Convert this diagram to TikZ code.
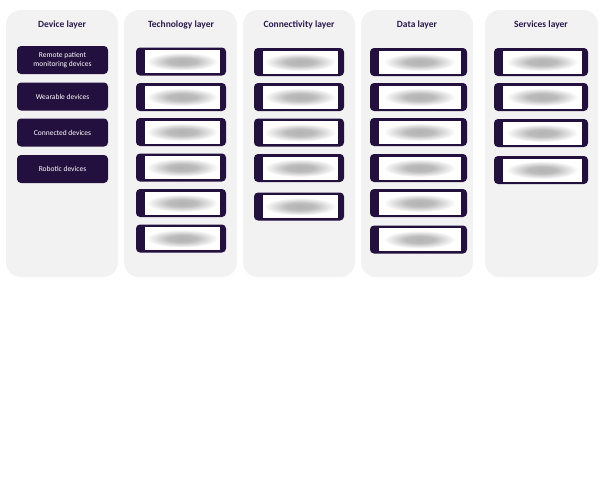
\documentclass[tikz,border=0pt]{standalone}
\usepackage{fontspec}
\setmainfont{Carlito}
\definecolor{LayerInk}{RGB}{36,16,62}
\definecolor{LayerPanel}{RGB}{242,242,242}
\definecolor{LayerTitle}{RGB}{42,26,76}
\pgfdeclareradialshading{layerhaze}{\pgfpointorigin}{%
    color(0bp)=(black!30); color(10bp)=(black!26); color(25bp)=(white);
    color(50bp)=(white)}
\tikzset{
    layer/diagram/.style={
        x=1pt, y=-1pt,
        line join=round,
        every node/.style={outer sep=0pt}
    },
    layer/panel/.style={fill=LayerPanel, draw=none, rounded corners=15pt},
    layer/title/.style={
        text=LayerTitle, inner sep=0pt,
        font=\bfseries\fontsize{9.5}{11}\selectfont
    },
    layer/item/.style={
        fill=LayerInk, draw=none, rounded corners=4pt,
        minimum height=28pt, inner sep=1pt
    },
    layer/label/.style={
        text=white, align=center,
        font=\fontsize{7.5}{8.5}\selectfont
    },
    layer/blank/.style={fill=white, draw=none, minimum height=23pt, inner sep=0pt},
    layer/haze/.style={shading=layerhaze}
}

\begin{document}
\begin{tikzpicture}[layer/diagram]
    \useasboundingbox (0,0) rectangle (602,479);
    \fill[white] (0,0) rectangle (602,479);
    % columns
    \fill[layer/panel] (6,10) rectangle (118,277);
    \fill[layer/panel] (124,10) rectangle (237,277);
    \fill[layer/panel] (243,10) rectangle (355,277);
    \fill[layer/panel] (361,10) rectangle (473,277);
    \fill[layer/panel] (485,10) rectangle (598,277);
    \node[layer/title] (dev-title) at (62,25) {Device layer};
    \node[layer/title] (tech-title) at (181,25) {Technology layer};
    \node[layer/title] (conn-title) at (299,25) {Connectivity layer};
    \node[layer/title] (data-title) at (417,25) {Data layer};
    \node[layer/title] (serv-title) at (541,25) {Services layer};
    % device items
    \node[layer/item, layer/label, minimum width=91pt] (dev-1) at (62.5,60)
        {Remote patient\\monitoring devices};
    \node[layer/item, layer/label, minimum width=91pt] (dev-2) at (62.5,96.5)
        {Wearable devices};
    \node[layer/item, layer/label, minimum width=91pt] (dev-3) at (62.5,132.5)
        {Connected devices};
    \node[layer/item, layer/label, minimum width=91pt] (dev-4) at (62.5,169)
        {Robotic devices};
    % redacted items
    \foreach \col/\cx/\w/\ys in {
        tech/181/90/{61.5,97,132,167.5,203,238.5},
        conn/299/90/{62,97,132.5,168,206.5},
        data/418.5/97/{62,97,132,168,203,239.5},
        serv/541/94/{62,97,133,170}} {
        \foreach \y [count=\i] in \ys {
            \node[layer/item, minimum width=\w] (\col-\i) at (\cx,\y) {};
            \node[layer/blank, minimum width=\w-15] (\col-\i-text)
                at ([xshift=1pt]\col-\i.center) {};
            \shade[layer/haze] (\col-\i-text.center) ellipse (36pt and 9pt);
        }
    }
\end{tikzpicture}
\end{document}
